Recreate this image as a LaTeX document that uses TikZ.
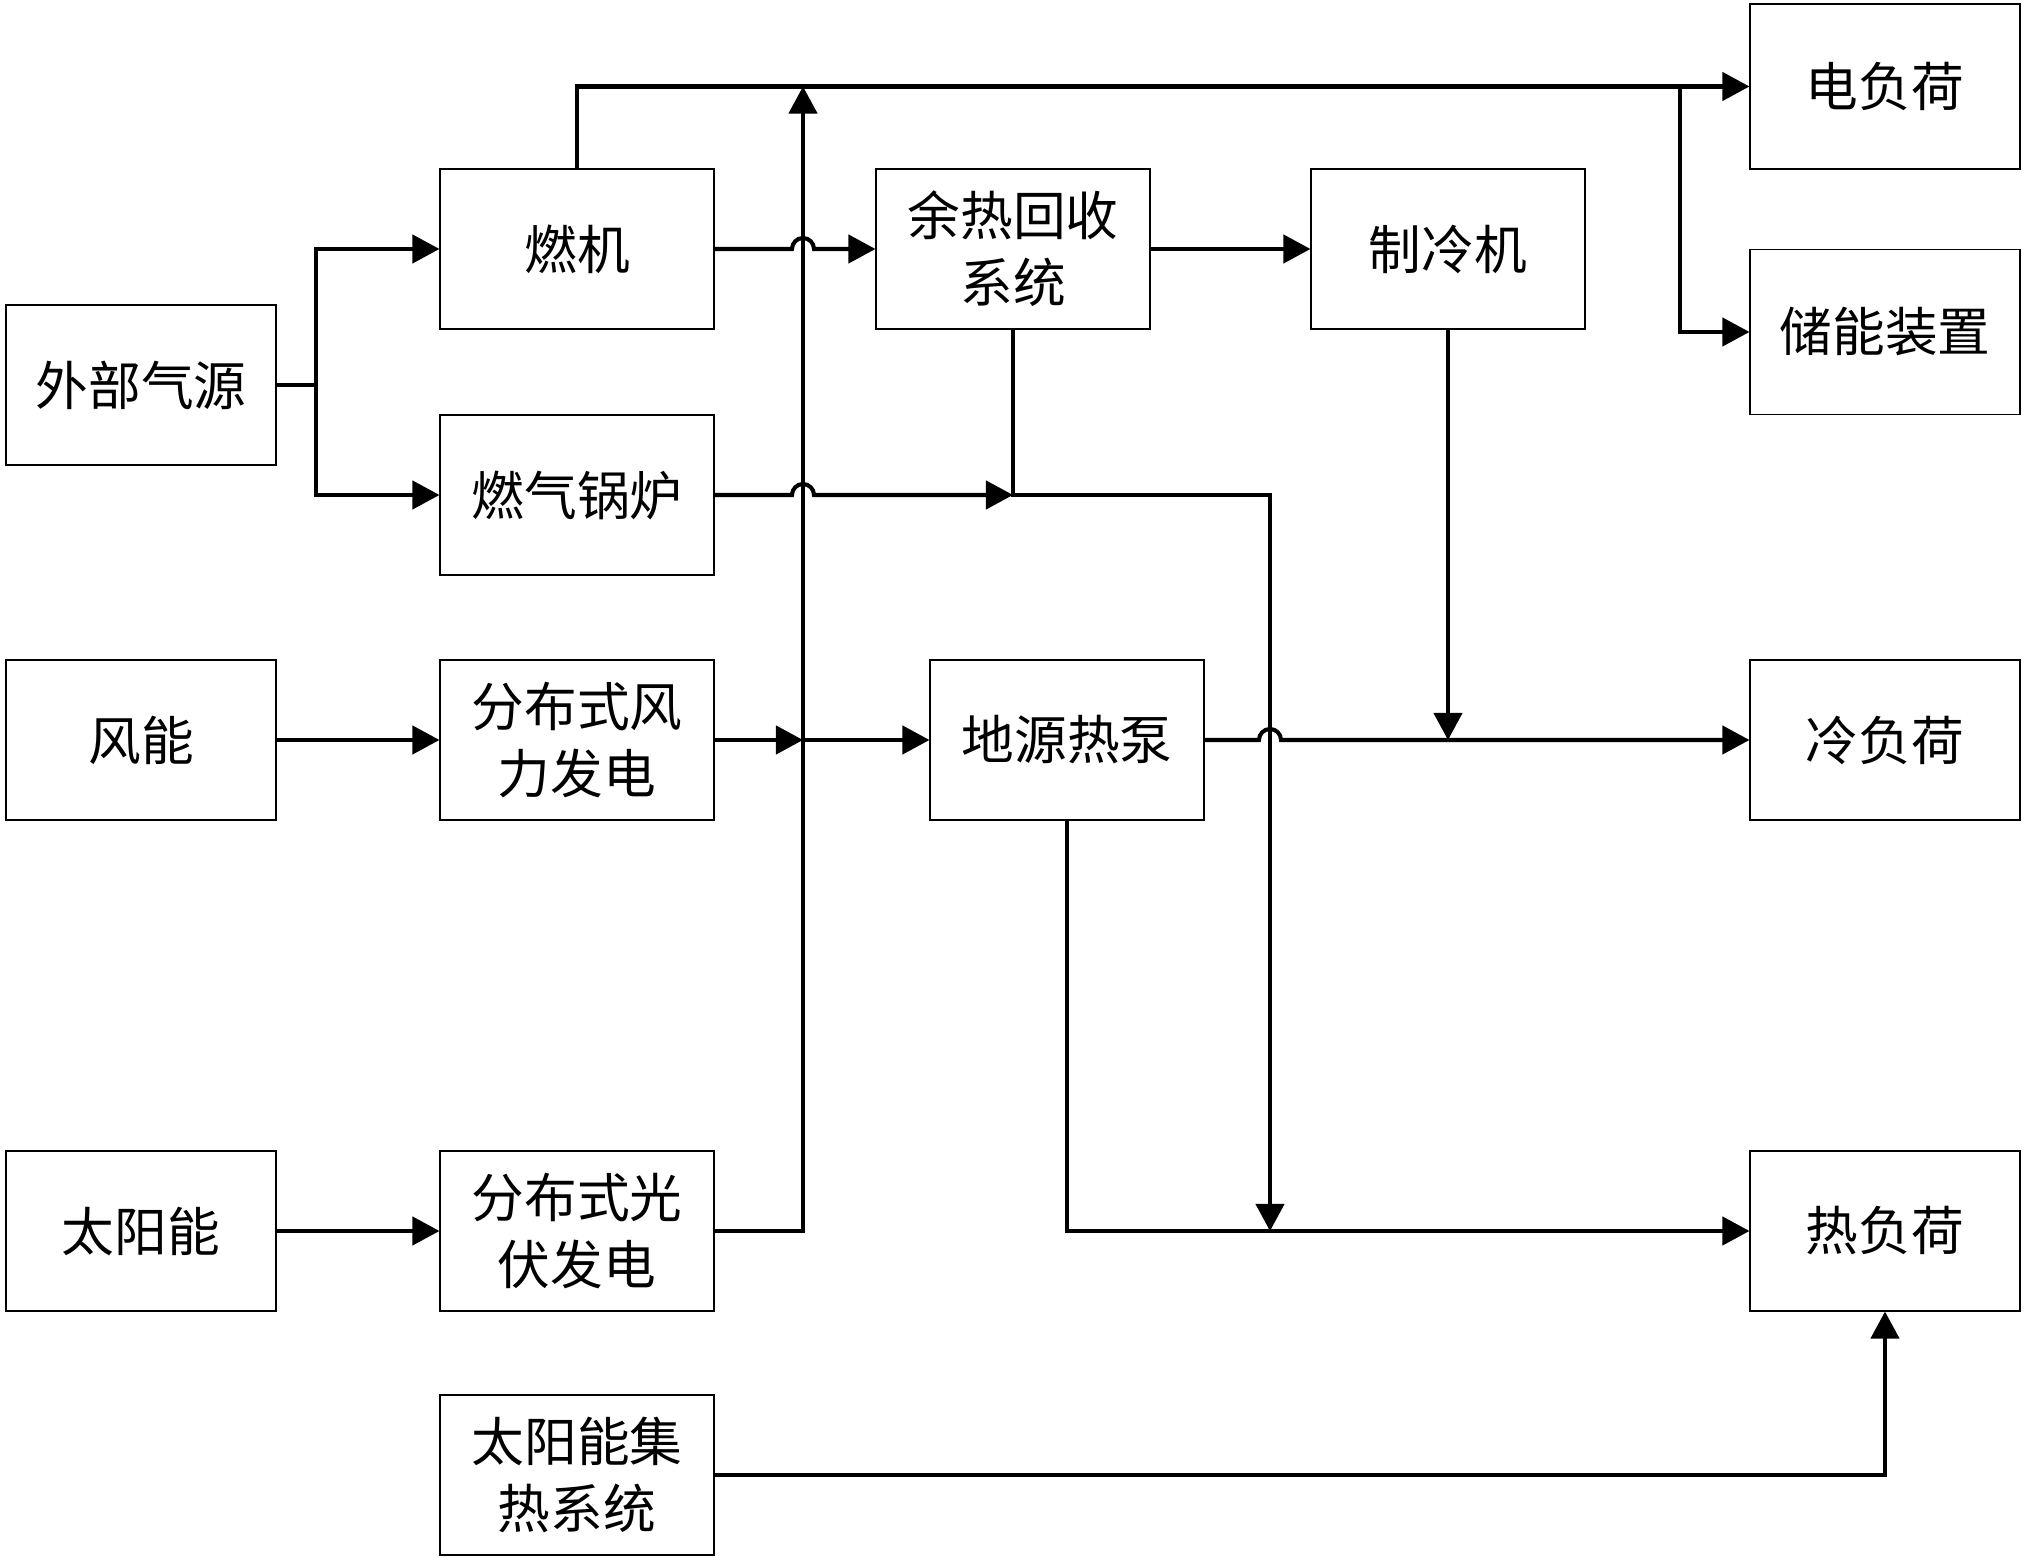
\documentclass[tikz,border=0pt]{standalone}
\usepackage{fontspec}
\setmainfont{Noto Sans CJK SC}
\usetikzlibrary{arrows.meta,calc}

\begin{document}
\begin{tikzpicture}[
  box/.style={draw, line width=0.3pt, minimum width=2.74cm,
    minimum height=1.6cm, inner sep=0pt, align=center,
    font=\fontsize{15}{19}\selectfont},
  load/.style={box, minimum width=2.7cm},
  flow/.style={line width=1.15pt, -{Triangle[length=7.7pt,width=8pt]}},
  line/.style={line width=1.15pt}]
  \useasboundingbox (0, 0) rectangle (20.25, -15.57);

  \node[load] (src) at (1.41, -3.85) {外部气源};
  \node[load] (wind) at (1.41, -7.40) {风能};
  \node[load] (solar) at (1.41, -12.31) {太阳能};

  \node[box] (gt) at (5.77, -2.49) {燃机};
  \node[box] (boiler) at (5.77, -4.95) {燃气锅炉};
  \node[box] (wtg) at (5.77, -7.40) {分布式风\\力发电};
  \node[box] (pv) at (5.77, -12.31) {分布式光\\伏发电};
  \node[box] (stc) at (5.77, -14.75) {太阳能集\\热系统};

  \node[box] (whr) at (10.13, -2.49) {余热回收\\系统};
  \node[box] (chiller) at (14.48, -2.49) {制冷机};
  \node[box] (gshp) at (10.67, -7.40) {地源热泵};

  \node[load, minimum height=1.65cm] (eload) at (18.85, -0.865) {电负荷};
  \node[load, minimum height=1.65cm] (ess) at (18.85, -3.32) {储能装置};
  \node[load] (cload) at (18.85, -7.40) {冷负荷};
  \node[load] (hload) at (18.85, -12.31) {热负荷};

  \coordinate (busx) at (8.03, 0);
  \coordinate (split) at (3.16, -3.85);
  \coordinate (etap) at (16.80, -0.865);
  \coordinate (hjoin) at (12.70, -4.95);

  \draw[line] (src.east) -- (split);
  \draw[flow] (split) |- (gt.west);
  \draw[flow] (split) |- (boiler.west);

  \draw[flow] (gt.north) |- (eload.west);
  \draw[flow] (pv.east) -| (eload.west -| busx);
  \draw[flow] (etap) |- (ess.west);

  \draw[flow] (gt.east) -- ([xshift=-1.1mm]gt.east -| busx)
    arc[start angle=180, end angle=0, radius=1.1mm] -- (whr.west);
  \draw[flow] (whr.east) -- (chiller.west);
  \draw[flow] (boiler.east) -- ([xshift=-1.1mm]boiler.east -| busx)
    arc[start angle=180, end angle=0, radius=1.1mm]
    -- (boiler.east -| whr.south);
  \draw[flow] (whr.south) |- (hjoin) -- (hjoin |- hload.west);

  \draw[flow] (wind.east) -- (wtg.west);
  \draw[flow] (wtg.east) -- (wtg.east -| busx);
  \draw[flow] (wtg.east -| busx) -- (gshp.west);
  \draw[flow] (gshp.east) -- ([xshift=-1.1mm]gshp.east -| hjoin)
    arc[start angle=180, end angle=0, radius=1.1mm] -- (cload.west);
  \draw[flow] (chiller.south) -- (chiller.south |- cload.west);

  \draw[flow] (solar.east) -- (pv.west);
  \draw[flow] (gshp.south) |- (hload.west);
  \draw[flow] (stc.east) -| (hload.south);
\end{tikzpicture}
\end{document}
